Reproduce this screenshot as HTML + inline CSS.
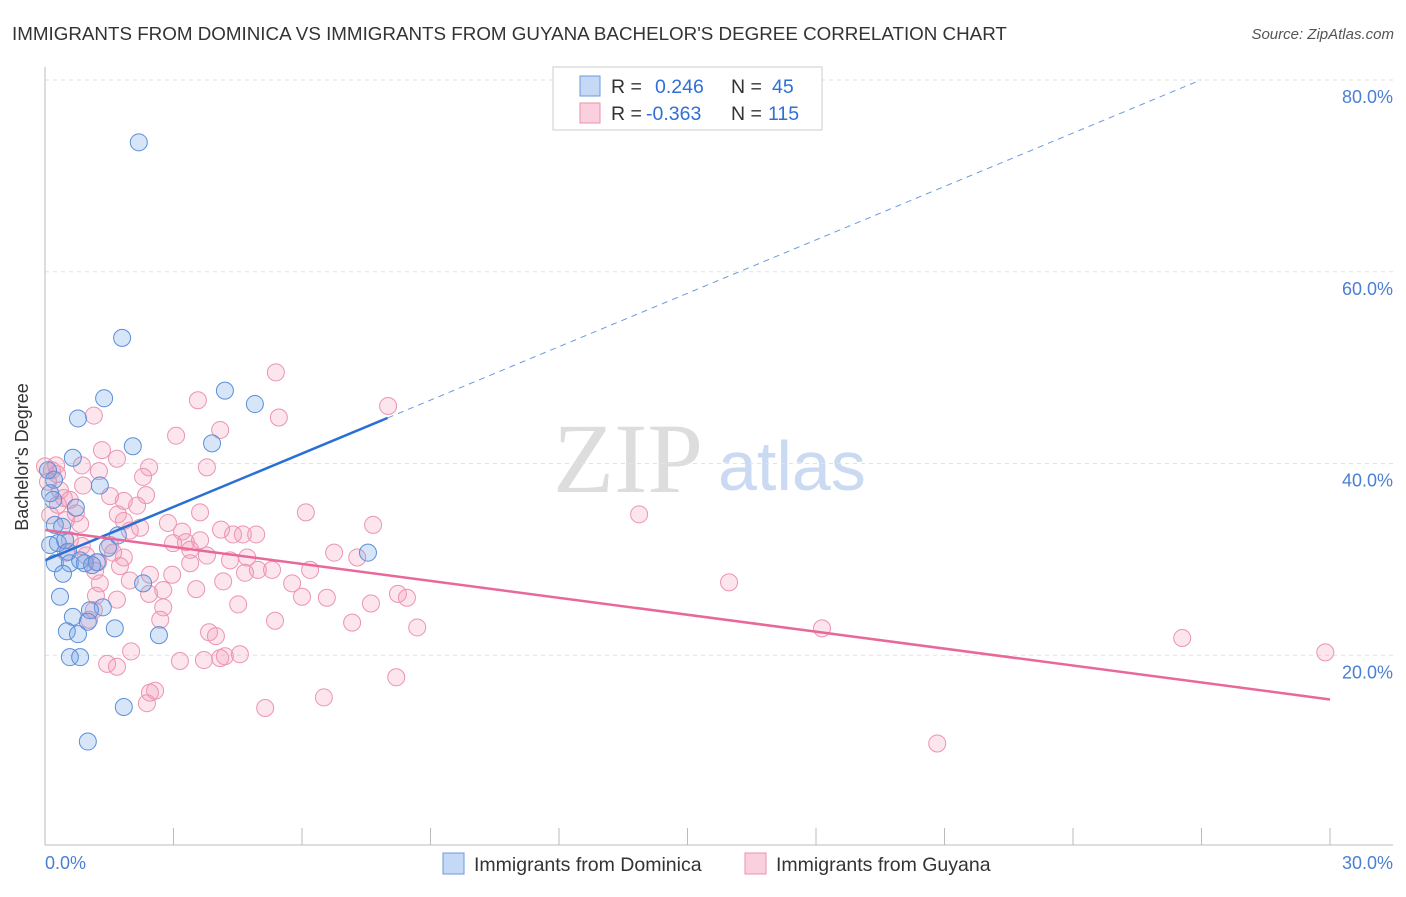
<!DOCTYPE html>
<html><head><meta charset="utf-8"><style>
body{margin:0;background:#fff;font-family:"Liberation Sans",sans-serif;}
svg text{font-family:"Liberation Sans",sans-serif;}
</style></head><body>
<svg id="c" width="1406" height="892" xmlns="http://www.w3.org/2000/svg">
<text x="12" y="40" font-size="18.8" fill="#333">IMMIGRANTS FROM DOMINICA VS IMMIGRANTS FROM GUYANA BACHELOR'S DEGREE CORRELATION CHART</text>
<text x="1394" y="39" font-size="15" fill="#555" font-style="italic" text-anchor="end">Source: ZipAtlas.com</text>
<text x="553" y="492" font-size="100" fill="#ddd" style="font-family:'Liberation Serif',serif">ZIP</text>
<text x="718" y="490" font-size="70" fill="#c9daf2">atlas</text>
<g id="grid"></g><g id="pts"></g><g id="lines"></g>
<line x1="45" y1="67" x2="45" y2="845" stroke="#bbb"/>
<line x1="45" y1="845" x2="1393" y2="845" stroke="#bbb"/>
<text x="28" y="457" font-size="18" fill="#333" text-anchor="middle" transform="rotate(-90 28 457)">Bachelor's Degree</text>
<text x="45" y="869" font-size="18" fill="#4a7fd4">0.0%</text>
<text x="1393" y="869" font-size="18" fill="#4a7fd4" text-anchor="end">30.0%</text>
<g>
<rect x="553" y="67" width="269" height="63" fill="#fff" stroke="#ccc"/>
<rect x="580" y="76" width="20" height="20" fill="#c5d9f6" stroke="#6a9ae0"/>
<rect x="580" y="103" width="20" height="20" fill="#fbd0de" stroke="#ec90ae"/>
<text x="611" y="93" font-size="19.5" fill="#333">R = <tspan x="655" fill="#2f6fd6">0.246</tspan><tspan x="731">N = </tspan><tspan x="772" fill="#2f6fd6">45</tspan></text>
<text x="611" y="120" font-size="19.5" fill="#333">R = <tspan x="646" fill="#2f6fd6">-0.363</tspan><tspan x="731">N = </tspan><tspan x="768" fill="#2f6fd6">115</tspan></text>
</g>
<g>
<rect x="443" y="853" width="21" height="21" fill="#c5d9f6" stroke="#6a9ae0"/>
<text x="474" y="871" font-size="19.5" fill="#333">Immigrants from Dominica</text>
<rect x="745" y="853" width="21" height="21" fill="#fbd0de" stroke="#ec90ae"/>
<text x="776" y="871" font-size="19.5" fill="#333">Immigrants from Guyana</text>
</g>
</svg>
<script>
const yTicks=[20,40,60,80];
const yTickLabels=["20.0%","40.0%","60.0%","80.0%"];
const xTicks=[0,3,6,9,12,15,18,21,24,27,30];
const blueX=[2.19,1.80,1.38,4.20,0.77,4.90,3.90,2.05,0.65,1.28,0.21,0.12,0.72,0.23,0.40,1.70,0.30,0.54,1.47,7.54,0.93,1.21,0.23,0.58,0.42,2.29,0.35,1.35,1.05,0.65,1.00,1.63,0.51,0.77,2.66,0.58,0.82,1.84,1.00,0.07,0.19,0.82,1.10,0.12,0.47];
const blueY=[73.5,53.1,46.8,47.6,44.7,46.2,42.1,41.8,40.6,37.7,38.3,36.9,35.4,33.6,33.4,32.5,31.7,30.8,31.2,30.7,29.6,29.7,29.6,29.6,28.5,27.5,26.1,25.0,24.7,24.0,23.5,22.8,22.5,22.2,22.1,19.8,19.8,14.6,11.0,39.3,36.2,29.9,29.4,31.5,32.0];
const pinkX=[5.39,8.01,3.57,5.46,1.14,4.09,3.06,1.33,1.68,0.86,2.43,3.78,1.26,0.0,0.16,0.28,2.29,0.07,0.89,1.52,2.36,0.44,1.84,2.15,0.30,0.72,1.70,3.62,6.09,13.87,1.84,7.66,0.82,2.87,4.11,4.62,4.93,4.39,3.20,2.22,1.98,3.29,2.99,1.52,0.86,0.58,0.49,3.78,4.72,0.96,6.75,7.29,1.84,1.24,3.39,1.75,1.17,2.45,2.97,4.67,4.97,5.30,6.19,15.97,4.16,5.77,1.28,2.76,3.53,8.24,8.45,6.00,6.58,7.61,4.51,2.43,1.68,1.19,1.14,2.76,1.03,5.37,7.17,8.69,18.14,26.55,3.83,3.99,2.01,4.55,29.89,1.45,1.68,3.15,3.71,4.09,4.20,8.20,6.51,2.57,2.45,2.38,5.14,20.83,0.26,0.35,0.58,0.12,0.49,1.59,1.98,2.69,3.39,3.62,4.32];
const pinkY=[49.5,46.0,46.6,44.8,45.0,43.5,42.9,41.4,40.5,39.8,39.6,39.6,39.2,39.7,39.3,38.9,38.6,38.1,37.7,36.6,36.7,36.4,36.1,35.6,35.7,34.8,34.7,34.9,34.9,34.7,34.0,33.6,33.7,33.8,33.1,32.6,32.6,32.6,32.9,33.3,33.0,31.8,31.7,31.5,31.4,32.0,30.7,30.4,30.2,30.4,30.7,30.2,30.2,29.7,29.6,29.3,28.8,28.4,28.4,28.6,28.9,28.9,28.9,27.6,27.7,27.5,27.5,26.8,26.9,26.4,26.0,26.1,26.0,25.4,25.3,26.4,25.8,26.2,24.7,25.0,23.7,23.6,23.4,22.9,22.8,21.8,22.4,22.0,20.4,20.1,20.3,19.1,18.8,19.4,19.5,19.7,19.9,17.7,15.6,16.3,16.1,15.0,14.5,10.8,39.8,37.2,36.2,34.6,34.1,30.7,27.8,23.7,31.0,32.0,29.9];
const blueTrend=[29.9,1.857];
const pinkTrend=[33.06,-0.589];
const NS="http://www.w3.org/2000/svg";
const X=v=>45+v/30*1285, Y=v=>847-v/20*191.75;
function mk(t,a,p){const e=document.createElementNS(NS,t);for(const k in a)e.setAttribute(k,a[k]);p.appendChild(e);return e;}
const g=document.getElementById('grid');
yTicks.forEach((t,i)=>{
 const l=mk('line',{x1:45,x2:1393,y1:Y(t),y2:Y(t),stroke:'#e2e2e2','stroke-dasharray':'4,4'},g);
 
 
 const tx=mk('text',{x:1393,y:Y(t)+23,'font-size':18,fill:'#4a7fd4','text-anchor':'end'},g);
 tx.textContent=yTickLabels[i];
 
 
});
xTicks.forEach(t=>{
 const l=mk('line',{x1:X(t),x2:X(t),y1:828,y2:845,stroke:'#bbb'},g);
 
 
});
const p=document.getElementById('pts');
pinkX.forEach((x,i)=>{
 const c=mk('circle',{cx:X(x),cy:Y(pinkY[i]),r:8.5,fill:'rgba(242,150,180,0.25)',stroke:'#ec94b2','stroke-width':1},p);
 
 
});
blueX.forEach((x,i)=>{
 const c=mk('circle',{cx:X(x),cy:Y(blueY[i]),r:8.5,fill:'rgba(110,160,230,0.28)',stroke:'#5b8fd9','stroke-width':1},p);
 
 
});
const L=document.getElementById('lines');
const bf=x=>blueTrend[0]+blueTrend[1]*x, pf=x=>pinkTrend[0]+pinkTrend[1]*x;
let e=mk('line',{x1:X(0),y1:Y(bf(0)),x2:X(8),y2:Y(bf(8)),stroke:'#2a6fd4','stroke-width':2.5},L);


const xe=(80-blueTrend[0])/blueTrend[1];
e=mk('line',{x1:X(8),y1:Y(bf(8)),x2:X(xe),y2:Y(80),stroke:'#6a9ae0','stroke-width':1,'stroke-dasharray':'6,5'},L);


e=mk('line',{x1:X(0),y1:Y(pf(0)),x2:X(30),y2:Y(pf(30)),stroke:'#e8689a','stroke-width':2.5},L);


</script>
</body></html>
